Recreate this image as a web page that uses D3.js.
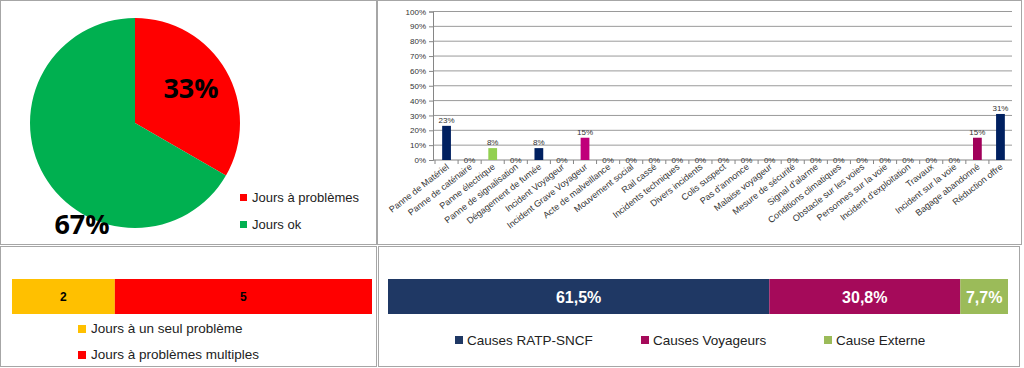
<!DOCTYPE html>
<html>
<head>
<meta charset="utf-8">
<script src="https://cdn.jsdelivr.net/npm/d3@7"></script>
<style>
  html, body { margin: 0; padding: 0; background: #fff; }
  svg { display: block; font-family: "Liberation Sans", Arial, sans-serif; }
</style>
</head>
<body>
<svg id="chart" width="1024" height="368"></svg>
<script>
// pie : jours
const pieLabels = ['Jours à problèmes', 'Jours ok']
const pieValues = [7, 14]
const pieColors = ['#FF0000', '#00B050']

// barres : causes (% des incidents)
const causes = ['Panne de Matériel', 'Panne de caténaire', 'Panne électrique', 'Panne de signalisation',
  'Dégagement de fumée', 'Incident Voyageur', 'Incident Grave Voyageur', 'Acte de malveillance',
  'Mouvement social', 'Rail cassé', 'Incidents techniques', 'Divers incidents', 'Colis suspect',
  "Pas d'annonce", 'Malaise voyageur', 'Mesure de sécurité', "Signal d'alarme", 'Conditions climatiques',
  'Obstacle sur les voies', 'Personnes sur la voie', "Incident d'exploitation", 'Travaux',
  'Incident sur la voie', 'Bagage abandonné', 'Réduction offre']
const causeValues = [23, 0, 8, 0, 8, 0, 15, 0, 0, 0, 0, 0, 0, 0, 0, 0, 0, 0, 0, 0, 0, 0, 0, 15, 31]
const causeGroup = ['rs', 'rs', 'ext', 'rs', 'rs', 'voy', 'voy2', 'ext', 'rs', 'rs', 'rs', 'rs', 'voy',
  'voy', 'voy', 'rs', 'voy', 'ext', 'ext', 'ext', 'rs', 'rs', 'rs', 'voy', 'rs']
const yTicks = [0, 10, 20, 30, 40, 50, 60, 70, 80, 90, 100]

// jours a probleme
const dayLabels = ['Jours à un seul problème', 'Jours à problèmes multiples']
const dayValues = [2, 5]
const dayColors = ['#FFC000', '#FF0000']

// familles de causes
const famLabels = ['Causes RATP-SNCF', 'Causes Voyageurs', 'Cause Externe']
const famValues = [61.5, 30.8, 7.7]
const famColors = ['#1F3864', '#A50A5A', '#9BBB59']

const groupColor = { rs: '#002060', voy: '#A0005A', voy2: '#C0007A', ext: '#92D050' }

const svg = d3.select('#chart')

// cadres
const frames = [[0.5, 0.5, 376, 244], [377.5, 0.5, 644, 244], [0.5, 246.5, 376, 120], [378.5, 246.5, 641, 120]]
svg.selectAll('rect.frame')
  .data(frames)
  .enter().append('rect')
  .attr('class', 'frame')
  .attr('x', d => d[0]).attr('y', d => d[1])
  .attr('width', d => d[2]).attr('height', d => d[3])
  .attr('fill', 'none')
  .attr('stroke', '#a6a6a6')

// ---- camembert
const pie = d3.pie().sort(null)(pieValues)
const arc = d3.arc().innerRadius(0).outerRadius(105)
const gPie = svg.append('g').attr('transform', 'translate(135,123)')
gPie.selectAll('path')
  .data(pie)
  .enter().append('path')
  .attr('d', arc)
  .attr('fill', (d, i) => pieColors[i])

const total = d3.sum(pieValues)
const pieLabelPos = [[56, -25], [-53, 111]]
gPie.selectAll('text.pct')
  .data(pie)
  .enter().append('text')
  .attr('class', 'pct')
  .attr('x', (d, i) => pieLabelPos[i][0])
  .attr('y', (d, i) => pieLabelPos[i][1])
  .attr('text-anchor', 'middle')
  .style('font-family', 'Open Sans, sans-serif')
  .style('font-weight', 'bold')
  .style('font-size', '27px')
  .attr('fill', '#000')
  .text(d => d3.format('.0%')(d.value / total))

const pieLeg = svg.append('g').attr('transform', 'translate(240,194)')
pieLabels.forEach((l, i) => {
  pieLeg.append('rect').attr('x', 0).attr('y', i * 27).attr('width', 7).attr('height', 7).attr('fill', pieColors[i])
  pieLeg.append('text').attr('x', 12).attr('y', i * 27 + 8)
    .style('font-size', '13px').attr('fill', '#222').text(l)
})

// ---- histogramme des causes
const x = d3.scaleBand().domain(causes).range([435, 1012]).paddingInner(0.62).paddingOuter(0.31)
const y = d3.scaleLinear().domain([0, 100]).range([160, 11.5])

const gBar = svg.append('g')
gBar.append('g').selectAll('line')
  .data(yTicks.slice(1))
  .enter().append('line')
  .attr('x1', 433).attr('x2', 1012)
  .attr('y1', d => y(d)).attr('y2', d => y(d))
  .attr('stroke', '#9a9a9a').attr('stroke-width', 1)

const yAxis = gBar.append('g').attr('transform', 'translate(433,0)')
  .call(d3.axisLeft(y).tickValues(yTicks).tickSize(4).tickFormat(d => d + '%'))
yAxis.select('.domain').attr('stroke', '#868686')
yAxis.selectAll('.tick line').attr('stroke', '#868686')
yAxis.selectAll('text').style('font-size', '8px').attr('fill', '#333').style('font-family', 'Liberation Sans, sans-serif')

gBar.append('line').attr('x1', 433).attr('x2', 1012).attr('y1', 160).attr('y2', 160).attr('stroke', '#868686')
const step = x.step()
gBar.append('g').selectAll('line')
  .data(causes)
  .enter().append('line')
  .attr('x1', d => x(d) - (step - x.bandwidth()) / 2)
  .attr('x2', d => x(d) - (step - x.bandwidth()) / 2)
  .attr('y1', 160).attr('y2', 164)
  .attr('stroke', '#868686')

gBar.append('g').selectAll('rect')
  .data(causes)
  .enter().append('rect')
  .attr('x', d => x(d))
  .attr('width', x.bandwidth())
  .attr('y', (d, i) => y(causeValues[i]))
  .attr('height', (d, i) => 160 - y(causeValues[i]))
  .attr('fill', (d, i) => groupColor[causeGroup[i]])

gBar.append('g').selectAll('text')
  .data(causes)
  .enter().append('text')
  .attr('x', d => x(d) + x.bandwidth() / 2)
  .attr('y', (d, i) => causeValues[i] === 0 ? 163 : y(causeValues[i]) - 3)
  .attr('text-anchor', 'middle')
  .style('font-size', '8px')
  .attr('fill', '#333')
  .text((d, i) => causeValues[i] + '%')

gBar.append('g').selectAll('text')
  .data(causes)
  .enter().append('text')
  .attr('transform', d => `translate(${x(d) + x.bandwidth() / 2 + 3},168) rotate(-38)`)
  .attr('text-anchor', 'end')
  .style('font-size', '9px')
  .attr('fill', '#333')
  .text(d => d)

// ---- jours a probleme (barre empilee)
const xd = d3.scaleLinear().domain([0, d3.sum(dayValues)]).range([12, 372])
let acc = 0
const daySeg = dayValues.map(v => { const s = { x0: acc, x1: acc + v, v }; acc += v; return s })
svg.append('g').selectAll('rect')
  .data(daySeg)
  .enter().append('rect')
  .attr('x', d => xd(d.x0)).attr('width', d => xd(d.x1) - xd(d.x0))
  .attr('y', 279).attr('height', 35)
  .attr('fill', (d, i) => dayColors[i])
svg.append('g').selectAll('text')
  .data(daySeg)
  .enter().append('text')
  .attr('x', d => (xd(d.x0) + xd(d.x1)) / 2).attr('y', 301)
  .attr('text-anchor', 'middle')
  .style('font-weight', 'bold').style('font-size', '12px')
  .attr('fill', '#000')
  .text(d => d.v)
dayLabels.forEach((l, i) => {
  svg.append('rect').attr('x', 78).attr('y', 325 + i * 26).attr('width', 8).attr('height', 8).attr('fill', dayColors[i])
  svg.append('text').attr('x', 91).attr('y', 333 + i * 26)
    .style('font-size', '13.5px').attr('fill', '#222').text(l)
})

// ---- familles de causes
const xf = d3.scaleLinear().domain([0, d3.sum(famValues)]).range([388, 1008])
acc = 0
const famSeg = famValues.map(v => { const s = { x0: acc, x1: acc + v, v }; acc += v; return s })
svg.append('g').selectAll('rect')
  .data(famSeg)
  .enter().append('rect')
  .attr('x', d => xf(d.x0)).attr('width', d => xf(d.x1) - xf(d.x0))
  .attr('y', 279).attr('height', 35)
  .attr('fill', (d, i) => famColors[i])
svg.append('g').selectAll('text')
  .data(famSeg)
  .enter().append('text')
  .attr('x', d => (xf(d.x0) + xf(d.x1)) / 2).attr('y', 303)
  .attr('text-anchor', 'middle')
  .style('font-weight', 'bold').style('font-size', '16px')
  .attr('fill', '#fff')
  .text(d => d3.format('.1f')(d.v).replace('.', ',') + '%')
const famLegX = [455, 641, 824]
famLabels.forEach((l, i) => {
  svg.append('rect').attr('x', famLegX[i]).attr('y', 336).attr('width', 8).attr('height', 8).attr('fill', famColors[i])
  svg.append('text').attr('x', famLegX[i] + 12).attr('y', 345)
    .style('font-size', '13.5px').attr('fill', '#222').text(l)
})
</script>
</body>
</html>
